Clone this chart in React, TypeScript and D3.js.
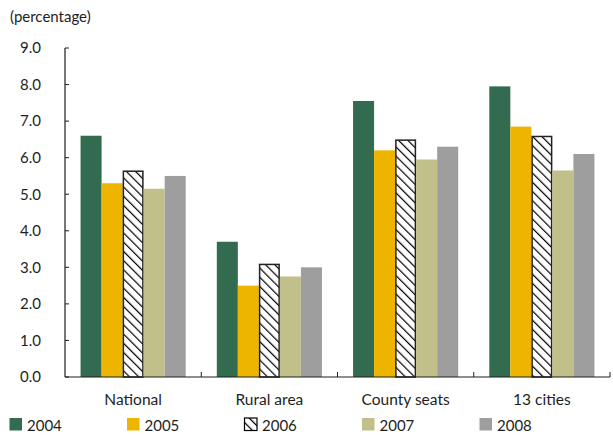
import React from "react";
import * as d3 from "d3";

const categories = ["National", "Rural area", "County seats", "13 cities"];
const years = ["2004", "2005", "2006", "2007", "2008"];
const values: number[][] = [
  [6.6, 3.7, 7.55, 7.95],
  [5.3, 2.5, 6.2, 6.85],
  [5.65, 3.1, 6.5, 6.6],
  [5.15, 2.75, 5.95, 5.65],
  [5.5, 3.0, 6.3, 6.1],
];
const yTicks = [0, 1, 2, 3, 4, 5, 6, 7, 8, 9];
const colors = ["#336b50", "#edb500", "url(#hatch)", "#c2c08a", "#9e9e9e"];

export default function App() {
  const W = 613, H = 435;
  const left = 65, right = 610, top = 48, bottom = 377;
  const x0 = d3.scaleBand().domain(categories).range([left, right]).paddingInner(0).paddingOuter(0);
  const x1 = d3.scaleBand().domain(years).range([0, x0.bandwidth()]).paddingOuter(0.74).paddingInner(0);
  const y = d3.scaleLinear().domain([0, 9]).range([bottom, top]);
  const font = "Lato, 'Open Sans', sans-serif";
  const ink = "#1e1e1e";
  return (
    <svg width={W} height={H} style={{ position: "absolute", left: 0, top: 0 }} fontFamily={font}>
      <defs>
        <pattern id="hatch" patternUnits="userSpaceOnUse" width="6.5" height="6.5" patternTransform="rotate(-45)">
          <rect width="6.5" height="6.5" fill="#fff" />
          <line x1="0" y1="0" x2="0" y2="6.5" stroke="#000" strokeWidth="2.4" />
        </pattern>
      </defs>
      <text x={10} y={22} fontSize={15} fill={ink}>(percentage)</text>
      {yTicks.map((t) => (
        <g key={t}>
          <text x={41} y={y(t) + 5.3} fontSize={15} textAnchor="end" fill={ink}>{t.toFixed(1)}</text>
          <line x1={left} x2={left + 4} y1={y(t)} y2={y(t)} stroke={ink} strokeWidth={1} />
        </g>
      ))}
      {years.map((yr, si) =>
        categories.map((c, ci) => {
          const v = values[si][ci];
          const bx = (x0(c) as number) + (x1(yr) as number);
          const isH = si === 2;
          return (
            <rect key={yr + c} x={bx + (isH ? 0.75 : 0)} y={y(v) + (isH ? 0.75 : 0)} width={x1.bandwidth() - (isH ? 1.5 : 0)}
              height={bottom - y(v) - (isH ? 0.75 : 0)} fill={colors[si]}
              stroke={isH ? "#222" : "none"} strokeWidth={isH ? 1.5 : 0} />
          );
        })
      )}
      <line x1={left} x2={left} y1={top} y2={bottom} stroke={ink} strokeWidth={1.2} />
      <line x1={left} x2={right} y1={bottom} y2={bottom} stroke={ink} strokeWidth={1.2} />
      {categories.map((c) => (
        <line key={"t" + c} x1={(x0(c) as number) + x0.bandwidth()} x2={(x0(c) as number) + x0.bandwidth()}
          y1={bottom} y2={bottom - 5} stroke={ink} strokeWidth={1} />
      ))}
      {categories.map((c) => (
        <text key={"l" + c} x={(x0(c) as number) + x0.bandwidth() / 2} y={405} fontSize={15.5} textAnchor="middle" fill={ink}>{c}</text>
      ))}
      {years.map((yr, i) => (
        <g key={"lg" + yr} transform={`translate(${9 + i * 117.5},0)`}>
          <rect x={0.5} y={418} width={12.5} height={12.5} fill={colors[i]} stroke={i === 2 ? "#000" : "none"} strokeWidth={1.2} />
          <text x={18} y={431} fontSize={15} fill={ink}>{yr}</text>
        </g>
      ))}
    </svg>
  );
}
